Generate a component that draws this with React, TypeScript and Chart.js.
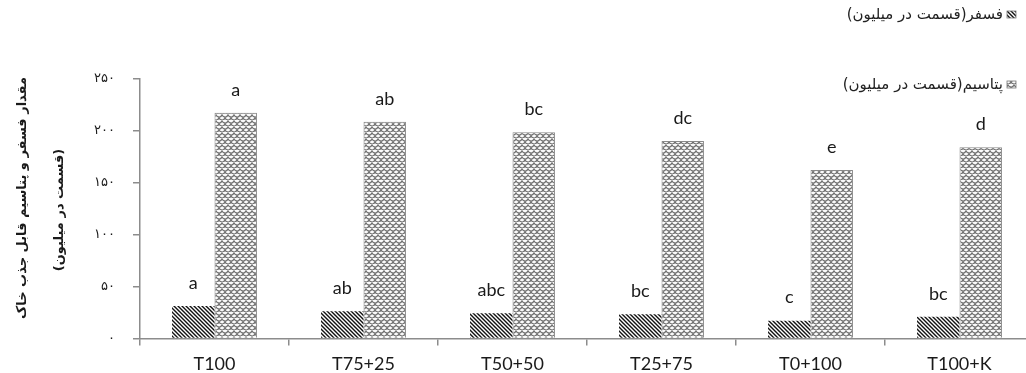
import React, { useEffect, useRef } from "react";
import { Chart, registerables } from "chart.js";

Chart.register(...registerables);

const categories = ["T100", "T75+25", "T50+50", "T25+75", "T0+100", "T100+K"];
const phosphorus = [31.4, 26.3, 24.3, 23.4, 17.2, 21.0];
const potassium = [217.4, 208.7, 198.6, 190.3, 162.4, 184.2];
const phosphorusLetters = ["a", "ab", "abc", "bc", "c", "bc"];
const potassiumLetters = ["a", "ab", "bc", "dc", "e", "d"];
const yTickLabels: Record<number, string> = { 0: "۰", 50: "۵۰", 100: "۱۰۰", 150: "۱۵۰", 200: "۲۰۰", 250: "۲۵۰" };
const seriesNames = ["فسفر(قسمت در میلیون)", "پتاسیم(قسمت در میلیون)"];
const yTitle = ["مقدار فسفر و پتاسیم قابل جذب خاک", "(قسمت در میلیون)"];

function stripePattern(ctx: CanvasRenderingContext2D) {
  const s = 4;
  const c = document.createElement("canvas");
  c.width = s;
  c.height = s;
  const g = c.getContext("2d")!;
  g.fillStyle = "#fff";
  g.fillRect(0, 0, s, s);
  g.strokeStyle = "#111";
  g.lineWidth = 1.4;
  g.beginPath();
  g.moveTo(-1, -1);
  g.lineTo(s + 1, s + 1);
  g.moveTo(-1, s - 1);
  g.lineTo(1, s + 1);
  g.moveTo(s - 1, -1);
  g.lineTo(s + 1, 1);
  g.stroke();
  return ctx.createPattern(c, "repeat")!;
}

function scalePattern(ctx: CanvasRenderingContext2D) {
  const s = 6;
  const r = 3;
  const c = document.createElement("canvas");
  c.width = s;
  c.height = s;
  const g = c.getContext("2d")!;
  g.fillStyle = "#fafafa";
  g.fillRect(0, 0, s, s);
  g.strokeStyle = "#727272";
  g.lineWidth = 1.2;
  const arcs = [
    [r, 0],
    [0, r],
    [s, r],
    [r, s],
  ];
  for (const [x, y] of arcs) {
    g.beginPath();
    g.arc(x, y, r, 0.15, Math.PI - 0.15);
    g.stroke();
  }
  return ctx.createPattern(c, "repeat")!;
}

export default function App() {
  const ref = useRef<HTMLCanvasElement>(null);

  useEffect(() => {
    const canvas = ref.current!;
    const ctx = canvas.getContext("2d")!;
    const pFill = stripePattern(ctx);
    const kFill = scalePattern(ctx);

    const lettersPlugin = {
      id: "letters",
      afterDatasetsDraw(chart: any) {
        const c = chart.ctx;
        c.save();
        c.font = "18px Lato, 'Open Sans', sans-serif";
        c.fillStyle = "#1a1a1a";
        c.textAlign = "center";
        c.textBaseline = "middle";
        const sets = [phosphorusLetters, potassiumLetters];
        sets.forEach((letters, di) => {
          const meta = chart.getDatasetMeta(di);
          meta.data.forEach((bar: any, i: number) => {
            c.fillText(letters[i], bar.x, bar.y - 23);
          });
        });
        c.restore();
      },
    };

    const titlePlugin = {
      id: "yTitle",
      afterDraw(chart: any) {
        const c = chart.ctx;
        c.save();
        c.font = "bold 13px 'DejaVu Sans', sans-serif";
        c.fillStyle = "#1a1a1a";
        c.textAlign = "center";
        c.textBaseline = "middle";
        const pos = [
          [23, 198],
          [60, 210],
        ];
        yTitle.forEach((t, i) => {
          c.save();
          c.translate(pos[i][0], pos[i][1]);
          c.rotate(-Math.PI / 2);
          c.fillText(t, 0, 0);
          c.restore();
        });
        c.restore();
      },
    };

    const legendPlugin = {
      id: "customLegend",
      afterDraw(chart: any) {
        const c = chart.ctx;
        c.save();
        c.font = "15px 'DejaVu Sans', sans-serif";
        c.direction = "rtl";
        c.textAlign = "right";
        c.textBaseline = "middle";
        const rows = [15, 85];
        const fills = [pFill, kFill];
        rows.forEach((y, i) => {
          c.fillStyle = "#222";
          c.fillText(seriesNames[i], 1003, y);
          c.fillStyle = fills[i];
          c.fillRect(1007, y - 4, 9, 7);
          c.strokeStyle = "#777";
          c.lineWidth = 0.8;
          c.strokeRect(1007, y - 4, 9, 7);
        });
        c.restore();
      },
    };

    const chart = new Chart(canvas, {
      type: "bar",
      data: {
        labels: categories,
        datasets: [
          {
            label: seriesNames[0],
            data: phosphorus,
            backgroundColor: pFill,
            borderWidth: 0,
          },
          {
            label: seriesNames[1],
            data: potassium,
            backgroundColor: kFill,
            borderColor: "#8a8a8a",
            borderWidth: 1,
          },
        ],
      },
      options: {
        responsive: false,
        animation: false,
        devicePixelRatio: 1,
        layout: { padding: { top: 79, right: 6, left: 0, bottom: 0 } },
        plugins: {
          legend: { display: false },
          tooltip: { enabled: false },
        },
        datasets: {
          bar: { categoryPercentage: 0.57, barPercentage: 1 },
        },
        scales: {
          x: {
            grid: {
              display: true,
              drawOnChartArea: false,
              drawTicks: true,
              tickLength: 7,
              color: "#8c8c8c",
              lineWidth: 1.5,
              offset: true,
            },
            border: { display: true, color: "#8c8c8c", width: 1.5 },
            ticks: {
              color: "#1a1a1a",
              font: { family: "Lato, 'Open Sans', sans-serif", size: 18 },
              padding: 8,
              maxRotation: 0,
            },
            afterFit: (s: any) => {
              s.height = 34.5;
            },
          },
          y: {
            min: 0,
            max: 250,
            grid: {
              display: true,
              drawOnChartArea: false,
              drawTicks: true,
              tickLength: 7,
              color: "#8c8c8c",
              lineWidth: 1.5,
            },
            border: { display: true, color: "#8c8c8c", width: 1.5 },
            ticks: {
              stepSize: 50,
              padding: 18,
              color: "#1a1a1a",
              font: { family: "'DejaVu Sans', sans-serif", size: 13 },
              callback: (v: any) => yTickLabels[v as number] ?? String(v),
            },
            afterFit: (s: any) => {
              s.width = 140;
            },
          },
        },
      },
      plugins: [lettersPlugin, titlePlugin, legendPlugin],
    });
    return () => chart.destroy();
  }, []);

  return (
    <div style={{ position: "fixed", left: 0, top: 0, width: 1026, height: 373, overflow: "hidden", background: "#fff" }}>
      <canvas ref={ref} width={1040} height={373} style={{ width: 1040, height: 373, display: "block" }} />
    </div>
  );
}
